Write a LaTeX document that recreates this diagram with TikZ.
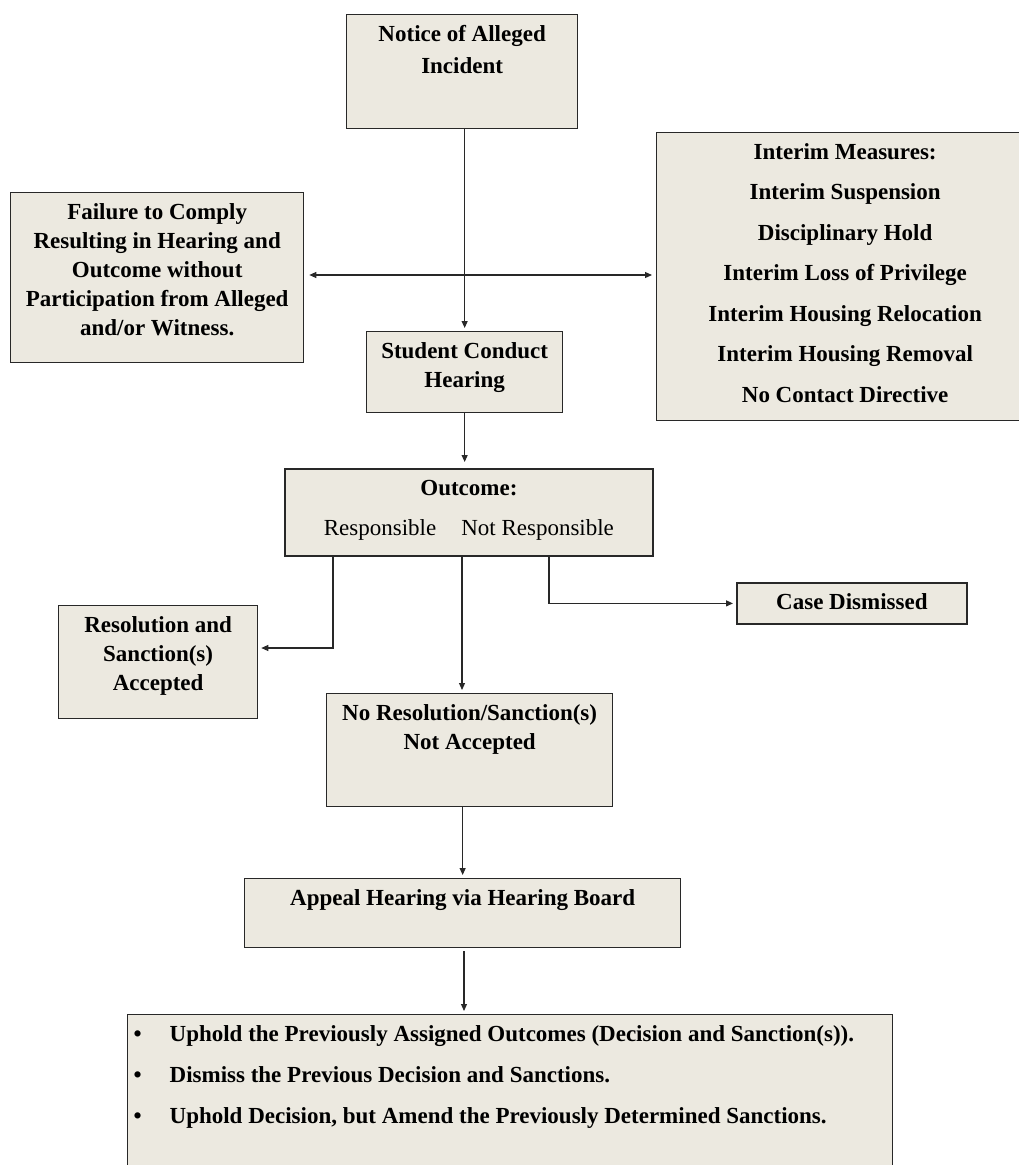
\documentclass[tikz,border=0pt]{standalone}
\usepackage{fontspec}
\setmainfont{Liberation Serif}
\usetikzlibrary{arrows.meta}
\definecolor{boxfill}{RGB}{236,233,224}
\definecolor{boxline}{RGB}{40,40,40}
\newcommand{\boxtext}[3]{\parbox[c][#2][t]{#1}{\centering\rule{0pt}{26.5pt}#3}}

\begin{document}
\begin{tikzpicture}[x=1pt,y=-1pt,
        box/.style={draw=boxline,fill=boxfill,line width=1.3pt,inner sep=0pt,anchor=north west,
            font=\fontsize{23}{29}\selectfont\bfseries},
        wide/.style={font=\fontsize{23}{40.5}\selectfont\bfseries},
        link/.style={draw=boxline,line width=1.1pt,-{Triangle[length=7pt,width=6pt]},shorten >=3pt}]
    \useasboundingbox (0,0) rectangle (1019,1165);
    \clip (0,0) rectangle (1019,1165);
    \node[box,font=\fontsize{23}{32}\selectfont\bfseries] (notice) at (346,14)
        {\boxtext{231pt}{114pt}{Notice of Alleged\\Incident}};
    \node[box] (failure) at (10,192)
        {\boxtext{293pt}{170pt}{Failure to Comply\\Resulting in Hearing and\\Outcome without\\Participation from Alleged\\and/or Witness.}};
    \node[box,wide] (interim) at (656,132)
        {\boxtext{377pt}{288pt}{Interim Measures:\\Interim Suspension\\Disciplinary Hold\\Interim Loss of Privilege\\Interim Housing Relocation\\Interim Housing Removal\\No Contact Directive}};
    \node[box] (conduct) at (366,331)
        {\boxtext{196pt}{81pt}{Student Conduct\\Hearing}};
    \node[box,wide,line width=1.8pt] (outcome) at (284,468)
        {\boxtext{368pt}{87pt}{Outcome:\\{\mdseries Responsible\hspace{25pt}Not Responsible}}};
    \node[box] (resol) at (58,605)
        {\boxtext{199pt}{113pt}{Resolution and\\Sanction(s)\\Accepted}};
    \node[box,line width=1.8pt] (casedis) at (736,582)
        {\boxtext{230pt}{41pt}{Case Dismissed}};
    \node[box] (noresol) at (326,693)
        {\boxtext{286pt}{113pt}{No Resolution/Sanction(s)\\Not Accepted}};
    \node[box] (appeal) at (244,878)
        {\boxtext{436pt}{69pt}{Appeal Hearing via Hearing Board}};
    \node[box,font=\fontsize{23}{41}\selectfont\bfseries] (options) at (127,1014)
        {\parbox[c][200pt][t]{765pt}{\raggedright\rule{0pt}{26.5pt}%
        \hspace*{6pt}\makebox[36pt][l]{\textbullet}Uphold the Previously Assigned Outcomes (Decision and Sanction(s)).\\
        \hspace*{6pt}\makebox[36pt][l]{\textbullet}Dismiss the Previous Decision and Sanctions.\\
        \hspace*{6pt}\makebox[36pt][l]{\textbullet}Uphold Decision, but Amend the Previously Determined Sanctions.}};

    \coordinate (cross) at (464,275);
    \coordinate (leftbend) at (333,648);
    \coordinate (mid) at (462,620);
    \coordinate (rightbend) at (549,601);

    \draw[link] (notice.south -| conduct.north) -- (conduct.north);
    \draw[link,{Triangle[length=7pt,width=6pt]}-{Triangle[length=7pt,width=6pt]},shorten <=5pt,shorten >=4pt]
        (failure.east |- cross) -- (interim.west |- cross);
    \draw[link,shorten >=6pt] (conduct.south) -- (outcome.north -| conduct.south);
    \draw[link] (outcome.south -| leftbend) |- (resol.east |- leftbend);
    \draw[link] (outcome.south -| mid) -- (noresol.north -| mid);
    \draw[link] (outcome.south -| rightbend) |- (casedis.west);
    \draw[link] (noresol.south -| appeal.north) -- (appeal.north);
    \draw[link,shorten <=3pt] (appeal.south -| cross) -- (options.north -| cross);
\end{tikzpicture}
\end{document}
